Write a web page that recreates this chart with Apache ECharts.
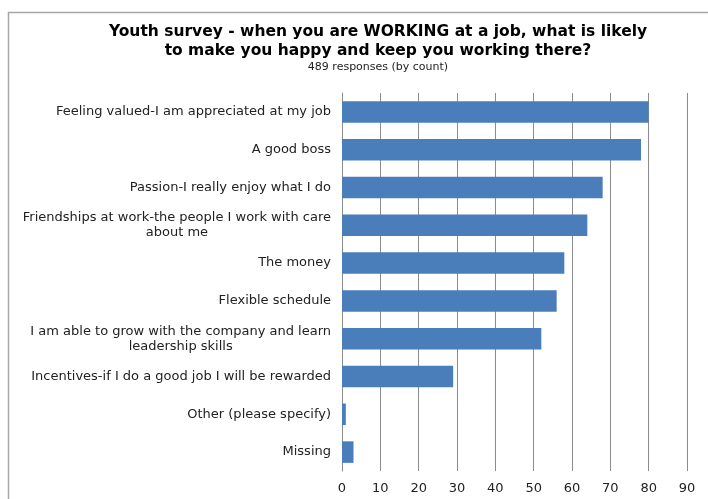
<!DOCTYPE html>
<html>
<head>
<meta charset="utf-8">
<script src="https://cdn.jsdelivr.net/npm/echarts@6/dist/echarts.min.js"></script>
<style>
  html, body { margin: 0; padding: 0; background: #fff; }
  #chart { width: 708px; height: 499px; }
</style>
</head>
<body>
<div id="chart"></div>
<script>
// Survey answers, listed top to bottom
const categories = [
  'Feeling valued-I am appreciated at my job',
  'A good boss',
  'Passion-I really enjoy what I do',
  'Friendships at work-the people I work with care\nabout me',
  'The money',
  'Flexible schedule',
  'I am able to grow with the company and learn\nleadership skills',
  'Incentives-if I do a good job I will be rewarded',
  'Other (please specify)',
  'Missing'
];
// Number of responses for each answer
const counts = [80, 78, 68, 64, 58, 56, 52, 29, 1, 3];
// Value-axis ticks
const xTicks = [0, 10, 20, 30, 40, 50, 60, 70, 80, 90];

const titleLines = 'Youth survey - when you are WORKING at a job, what is likely\nto make you happy and keep you working there?';
const subtitle = '489 responses (by count)';

const chart = echarts.init(document.getElementById('chart'), null, { renderer: 'canvas' });

// Two-line labels: first line right-aligned, second line centred under it
function labelFormatter(value) {
  const parts = value.split('\n');
  if (parts.length === 1) return '{a|' + parts[0] + '}';
  return '{a|' + parts[0] + '}\n{c|' + parts[1] + '}';
}

chart.setOption({
  animation: false,
  backgroundColor: '#ffffff',
  graphic: [{
    type: 'rect',
    shape: { x: 8.5, y: 12.5, width: 760, height: 560 },
    style: { fill: 'none', stroke: '#a6a6a6', lineWidth: 1.5 },
    silent: true,
    z: -1
  }],
  title: {
    text: titleLines,
    subtext: subtitle,
    left: 373,
    textAlign: 'center',
    top: 18,
    itemGap: 1,
    textStyle: {
      fontFamily: 'DejaVu Sans',
      fontWeight: 'bold',
      fontSize: 15.5,
      lineHeight: 18.5,
      color: '#000'
    },
    subtextStyle: {
      fontFamily: 'DejaVu Sans',
      fontSize: 11,
      lineHeight: 13,
      color: '#222'
    }
  },
  grid: {
    left: 342,
    right: 21,
    top: 93,
    bottom: 28,
    containLabel: false
  },
  xAxis: {
    type: 'value',
    min: xTicks[0],
    max: xTicks[xTicks.length - 1],
    interval: 10,
    axisLine: { show: false },
    axisTick: { show: false },
    axisLabel: {
      fontFamily: 'DejaVu Sans',
      fontSize: 13,
      color: '#222',
      margin: 11
    },
    splitLine: { show: true, lineStyle: { color: '#8c8c8c', width: 1 } }
  },
  yAxis: {
    type: 'category',
    data: categories,
    inverse: true,
    axisLine: { show: true, lineStyle: { color: '#8c8c8c', width: 1 } },
    axisTick: { show: false },
    axisLabel: {
      margin: 11,
      formatter: labelFormatter,
      color: '#222',
      fontFamily: 'DejaVu Sans',
      fontSize: 13,
      lineHeight: 15,
      rich: {
        a: { fontFamily: 'DejaVu Sans', fontSize: 13, lineHeight: 15, color: '#222' },
        c: { fontFamily: 'DejaVu Sans', fontSize: 13, lineHeight: 15, color: '#222', align: 'center' }
      }
    }
  },
  series: [{
    type: 'bar',
    data: counts,
    barWidth: '57%',
    itemStyle: { color: '#4A7EBB' }
  }]
});
</script>
</body>
</html>
